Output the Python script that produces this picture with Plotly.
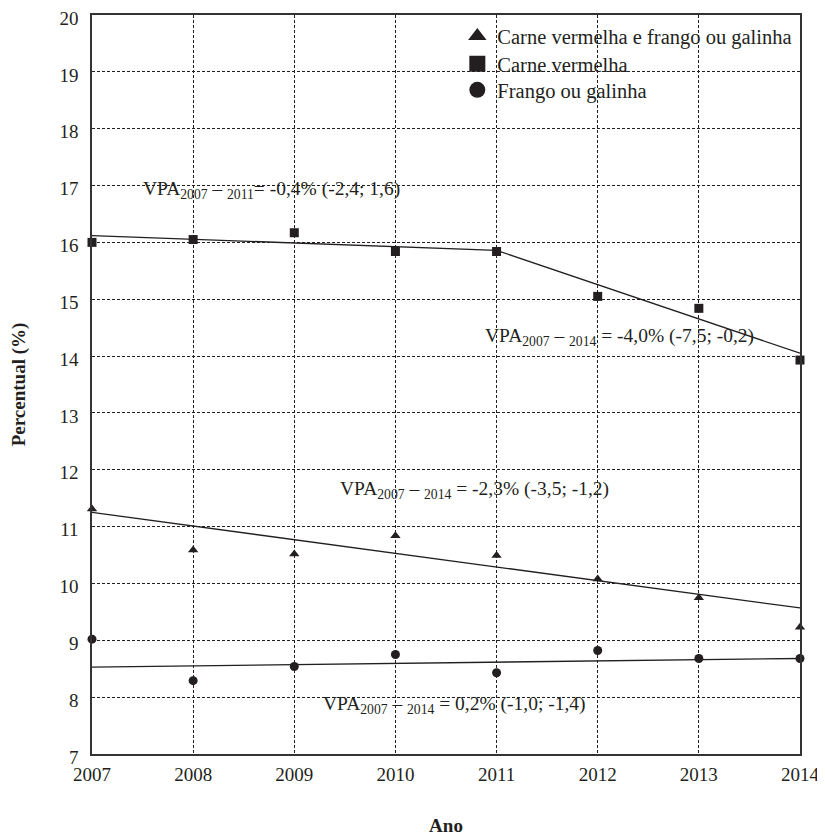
import plotly.graph_objects as go

years = [2007, 2008, 2009, 2010, 2011, 2012, 2013, 2014]
carne_frango = [11.31, 10.59, 10.52, 10.84, 10.49, 10.08, 9.75, 9.23]
carne_vermelha = [16.00, 16.05, 16.17, 15.84, 15.84, 15.05, 14.84, 13.93]
frango = [9.02, 8.29, 8.54, 8.75, 8.43, 8.82, 8.68, 8.68]

trend_cf_x = [2007, 2014]
trend_cf_y = [11.25, 9.57]
trend_cv_x = [2007, 2011, 2014]
trend_cv_y = [16.12, 15.86, 14.05]
trend_fr_x = [2007, 2014]
trend_fr_y = [8.53, 8.68]

legend_names = ["Carne vermelha e frango ou galinha", "Carne vermelha", "Frango ou galinha"]

ann_texts = [
    "VPA<sub>2007</sub> – <sub>2011</sub>= -0,4% (-2,4; 1,6)",
    "VPA<sub>2007</sub> – <sub>2014</sub> = -4,0% (-7,5; -0,2)",
    "VPA<sub>2007</sub> – <sub>2014</sub> = -2,3% (-3,5; -1,2)",
    "VPA<sub>2007</sub> – <sub>2014</sub> = 0,2% (-1,0; -1,4)",
]
ann_x = [2007.48, 2010.87, 2009.43, 2009.26]
ann_y = [16.92, 14.33, 11.64, 7.86]

INK = "#231f20"
FONT = "Liberation Serif"

fig = go.Figure()

# trend lines
for tx, ty in [(trend_cf_x, trend_cf_y), (trend_cv_x, trend_cv_y), (trend_fr_x, trend_fr_y)]:
    fig.add_trace(go.Scatter(x=tx, y=ty, mode="lines", line=dict(color=INK, width=1.3),
                             showlegend=False, hoverinfo="skip"))

# data markers
for vals, sym in [(carne_frango, "triangle-up"), (carne_vermelha, "square"), (frango, "circle")]:
    fig.add_trace(go.Scatter(x=years, y=vals, mode="markers",
                             marker=dict(symbol=sym, size=9, color=INK),
                             showlegend=False, cliponaxis=False))

# legend entries, one legend box per row for precise spacing
legend_ids = ["legend", "legend2", "legend3"]
for name, sym, lid in zip(legend_names, ["triangle-up", "square", "circle"], legend_ids):
    fig.add_trace(go.Scatter(x=[None], y=[None], mode="markers", name=name, legend=lid,
                             marker=dict(symbol=sym, size=18, color=INK)))

for t, x, y in zip(ann_texts, ann_x, ann_y):
    fig.add_annotation(x=x, y=y, xref="x", yref="y", text=t, showarrow=False,
                       xanchor="left", yanchor="middle",
                       font=dict(family=FONT, size=19.5, color=INK))

legend_style = dict(xanchor="left", yanchor="middle", x=0.516,
                    bgcolor="rgba(0,0,0,0)", borderwidth=0,
                    font=dict(family=FONT, size=20.5, color=INK))

# the page body adds an 8px offset, so the figure is 8px smaller on each side
fig.update_layout(
    width=817, height=828,
    margin=dict(l=84, r=25, t=7, b=82, autoexpand=False),
    paper_bgcolor="white", plot_bgcolor="white",
    font=dict(family=FONT, size=19, color=INK),
    legend=dict(y=0.9715, **legend_style),
    legend2=dict(y=0.9337, **legend_style),
    legend3=dict(y=0.8985, **legend_style),
    showlegend=True,
)

fig.update_xaxes(
    range=[2007, 2014], tickmode="array", tickvals=years,
    ticktext=[str(y) for y in years], automargin=False,
    showgrid=True, gridcolor=INK, gridwidth=1, griddash="3px,2px",
    showline=True, linecolor="#333333", linewidth=1.5, mirror=True,
    ticks="", ticklabelstandoff=2, zeroline=False, ticklabeloverflow="allow",
    tickfont=dict(family=FONT, size=19, color=INK),
    title=dict(text="<b>Ano</b>", font=dict(family=FONT, size=19, color=INK), standoff=38),
)
fig.update_yaxes(
    range=[7, 20], tickmode="linear", tick0=7, dtick=1, automargin=False,
    showgrid=True, gridcolor=INK, gridwidth=1, griddash="3px,2px",
    showline=True, linecolor="#333333", linewidth=1.5, mirror=True,
    ticks="", ticklabelstandoff=8, ticklabelshift=3, zeroline=False, ticklabeloverflow="allow",
    tickfont=dict(family=FONT, size=19, color=INK),
    title=dict(text="<b>Percentual (%)</b>", font=dict(family=FONT, size=19, color=INK), standoff=30),
)

fig.write_html("out.html")
